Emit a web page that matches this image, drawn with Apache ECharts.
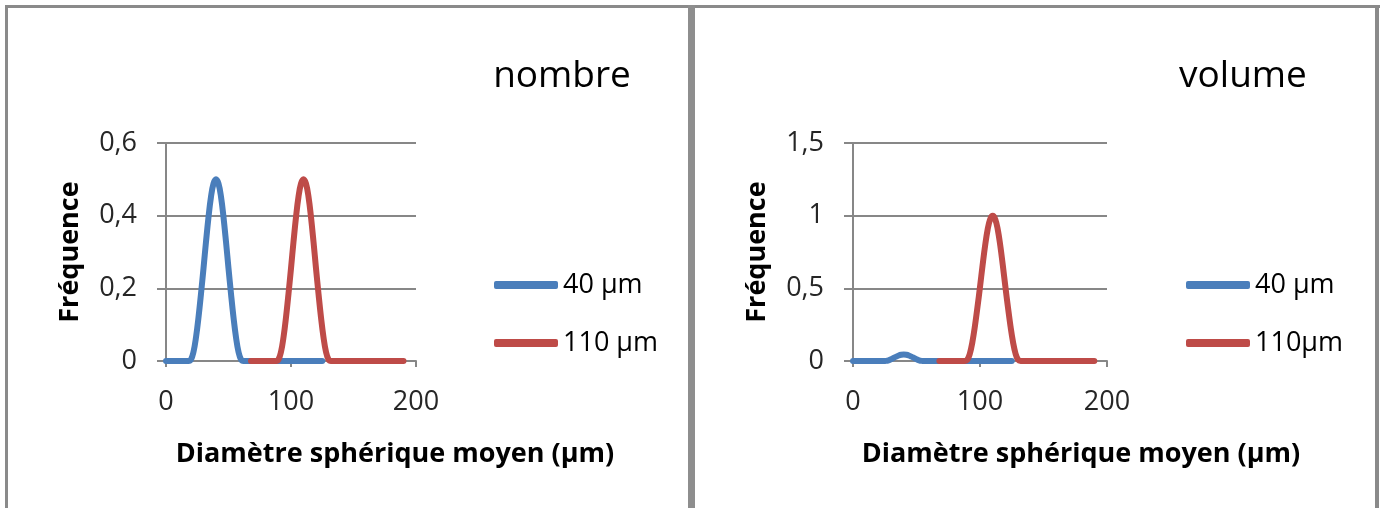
<!DOCTYPE html>
<html>
<head>
<meta charset="utf-8">
<script src="https://cdn.jsdelivr.net/npm/echarts@6/dist/echarts.min.js"></script>
<style>
  html, body { margin: 0; padding: 0; background: #fff; }
  #chart { width: 1384px; height: 508px; }
</style>
</head>
<body>
<div id="chart"></div>
<script>
// ---- Data ----
const panelTitles = ['nombre', 'volume'];
const xTicks = [0, 100, 200];
const yTicksNombre = [0, 0.2, 0.4, 0.6];
const yTicksVolume = [0, 0.5, 1, 1.5];
const legendNombre = ['40 µm', '110 µm'];
const legendVolume = ['40 µm', '110µm'];

// x positions (µm) of the 40 µm curves
const x40 = [0, 10, 18, 20, 22, 24, 26, 28, 30, 32, 34, 36, 38, 40, 42, 44, 46, 48, 50, 52, 54, 56, 58, 60, 62, 70, 80, 90, 100, 110, 125];
// frequency (number) of the 40 µm sample
const nombre40 = [0, 0, 0, 0.004, 0.025, 0.065, 0.12, 0.185, 0.255, 0.328, 0.396, 0.452, 0.488, 0.5, 0.488, 0.452, 0.396, 0.328, 0.255, 0.185, 0.12, 0.065, 0.025, 0.004, 0, 0, 0, 0, 0, 0, 0];
// frequency (volume) of the 40 µm sample
const volume40 = [0, 0, 0, 0, 0, 0, 0.001, 0.005, 0.012, 0.021, 0.03, 0.038, 0.043, 0.045, 0.043, 0.038, 0.03, 0.021, 0.012, 0.005, 0.001, 0, 0, 0, 0, 0, 0, 0, 0, 0, 0];

// x positions (µm) of the 110 µm curves
const x110 = [68, 80, 88, 90, 92, 94, 96, 98, 100, 102, 104, 106, 108, 110, 112, 114, 116, 118, 120, 122, 124, 126, 128, 130, 132, 140, 160, 180, 190];
// frequency (number) of the 110 µm sample
const nombre110 = [0, 0, 0, 0.004, 0.025, 0.065, 0.12, 0.185, 0.255, 0.328, 0.396, 0.452, 0.488, 0.5, 0.488, 0.452, 0.396, 0.328, 0.255, 0.185, 0.12, 0.065, 0.025, 0.004, 0, 0, 0, 0, 0];
// frequency (volume) of the 110 µm sample
const volume110 = [0, 0, 0, 0.008, 0.05, 0.13, 0.24, 0.37, 0.51, 0.656, 0.792, 0.904, 0.976, 1.0, 0.976, 0.904, 0.792, 0.656, 0.51, 0.37, 0.24, 0.13, 0.05, 0.008, 0, 0, 0, 0, 0];

// ---- Build chart ----
const BLUE = '#4A7EBB';
const RED = '#BE4B48';
const GRAY = '#878787';
const FONT = 'Open Sans';

function pairs(xs, ys) { return xs.map((x, i) => [x, ys[i]]); }
function comma(v) { return String(v).replace('.', ','); }

function xAxisFor(gridIndex, shiftPad) {
  return {
    type: 'value', gridIndex: gridIndex,
    min: xTicks[0], max: xTicks[xTicks.length - 1], interval: xTicks[1] - xTicks[0],
    name: 'Diamètre sphérique moyen (µm)', nameLocation: 'middle', nameGap: 80,
    nameTextStyle: { fontFamily: FONT, fontWeight: 'bold', fontSize: 27, color: '#000', padding: [0, 0, 0, shiftPad] },
    axisLine: { show: true, onZero: false, lineStyle: { color: GRAY, width: 2 } },
    axisTick: { show: true, length: 6, lineStyle: { color: GRAY, width: 2 } },
    axisLabel: { fontFamily: FONT, fontSize: 27, color: '#262626', margin: 28 },
    splitLine: { show: false }
  };
}
function yAxisFor(gridIndex, ticks) {
  return {
    type: 'value', gridIndex: gridIndex,
    min: ticks[0], max: ticks[ticks.length - 1], interval: ticks[1] - ticks[0],
    name: 'Fréquence', nameLocation: 'middle', nameRotate: 90, nameGap: 82,
    nameTextStyle: { fontFamily: FONT, fontWeight: 'bold', fontSize: 27, color: '#000' },
    axisLine: { show: true, lineStyle: { color: GRAY, width: 2 } },
    axisTick: { show: true, length: 9, lineStyle: { color: GRAY, width: 2 } },
    axisLabel: { fontFamily: FONT, fontSize: 27, color: '#262626', margin: 29, formatter: comma },
    splitLine: { show: true, lineStyle: { color: GRAY, width: 2 } }
  };
}
function lineSeries(name, xi, yi, data, color) {
  return {
    type: 'line', name: name, xAxisIndex: xi, yAxisIndex: yi,
    data: data, smooth: 0.4, showSymbol: false, symbol: 'none',
    lineStyle: { color: color, width: 6, cap: 'round', join: 'round' },
    itemStyle: { color: color },
    animation: false
  };
}
function legendFor(names, left) {
  return {
    data: names, orient: 'vertical', left: left, top: 265,
    icon: 'roundRect', itemWidth: 64, itemHeight: 8, itemGap: 28,
    textStyle: { fontFamily: FONT, fontSize: 27, color: '#000', lineHeight: 30 },
    selectedMode: false
  };
}

const option = {
  backgroundColor: '#fff',
  animation: false,
  grid: [
    { left: 166, top: 143, width: 250, height: 218 },
    { left: 853, top: 143, width: 254, height: 218 }
  ],
  xAxis: [xAxisFor(0, 208), xAxisFor(1, 202)],
  yAxis: [yAxisFor(0, yTicksNombre), yAxisFor(1, yTicksVolume)],
  legend: [legendFor(legendNombre, 489), legendFor(legendVolume, 1181)],
  series: [
    lineSeries(legendNombre[0], 0, 0, pairs(x40, nombre40), BLUE),
    lineSeries(legendNombre[1], 0, 0, pairs(x110, nombre110), RED),
    lineSeries(legendVolume[0], 1, 1, pairs(x40, volume40), BLUE),
    lineSeries(legendVolume[1], 1, 1, pairs(x110, volume110), RED)
  ],
  graphic: [
    { type: 'rect', shape: { x: 5, y: 5, width: 1375, height: 3 }, style: { fill: '#8a8a8a' }, silent: true },
    { type: 'rect', shape: { x: 5, y: 5, width: 3, height: 503 }, style: { fill: '#8a8a8a' }, silent: true },
    { type: 'rect', shape: { x: 688, y: 5, width: 7, height: 503 }, style: { fill: '#8e8e8e' }, silent: true },
    { type: 'rect', shape: { x: 1375, y: 5, width: 4, height: 503 }, style: { fill: '#8a8a8a' }, silent: true },
    { type: 'text', x: 562, y: 76, style: { text: panelTitles[0], font: '37px "Open Sans"', fill: '#000', align: 'center', verticalAlign: 'middle' }, silent: true },
    { type: 'text', x: 1243, y: 76, style: { text: panelTitles[1], font: '37px "Open Sans"', fill: '#000', align: 'center', verticalAlign: 'middle' }, silent: true }
  ]
};

const chart = echarts.init(document.getElementById('chart'), null, { renderer: 'canvas' });
chart.setOption(option);
</script>
</body>
</html>
